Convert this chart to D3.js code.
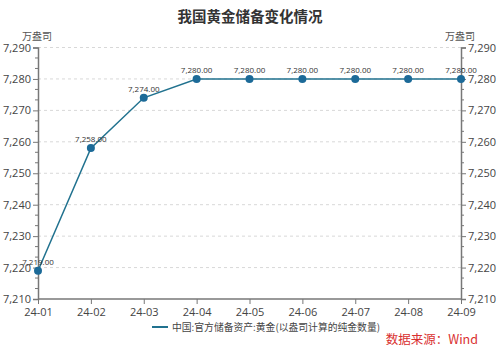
<!DOCTYPE html>
<html><head><meta charset="utf-8">
<script src="https://cdn.jsdelivr.net/npm/d3@7"></script>
<style>body{margin:0;background:#fff}svg{display:block}</style>
</head><body><svg id="c" width="499" height="354"></svg>
<script>
const categories = ["24-01","24-02","24-03","24-04","24-05","24-06","24-07","24-08","24-09"];
const values = [7219,7258,7274,7280,7280,7280,7280,7280,7280];
const yTicks = [7210,7220,7230,7240,7250,7260,7270,7280,7290];
const title = "我国黄金储备变化情况";
const unit = "万盎司";
const seriesName = "中国:官方储备资产:黄金(以盎司计算的纯金数量)";
const source = "数据来源：Wind";

const svg = d3.select("#c");
const L = 38, R = 461, T = 47.5, B = 299;
const x = d3.scalePoint().domain(categories).range([L, R]);
const y = d3.scaleLinear().domain([7210, 7290]).range([B, T]);
const font = "'Open Sans','Noto Sans CJK SC',sans-serif";
const cjk = "'Noto Sans CJK SC',sans-serif";
const lineColor = "#21728f", dotColor = "#1c6a98";

svg.append("text").attr("x", 250).attr("y", 22).attr("text-anchor","middle")
  .attr("font-family", cjk).attr("font-weight","bold").attr("font-size",14.5).attr("fill","#333").text(title);

// grid
svg.append("g").selectAll("line").data(yTicks.slice(1)).join("line")
  .attr("x1", L).attr("x2", R).attr("y1", d=>y(d)).attr("y2", d=>y(d))
  .attr("stroke","#d8d8d8").attr("stroke-dasharray","3,3");

const minor = d3.range(0, 24).map(i => 7210 + i*10/3).filter(v => Math.abs((v-7210)%10) > 0.5 && Math.abs((v-7210)%10) < 9.5);

function styleAxis(g){
  g.selectAll(".domain").attr("stroke","#777").attr("stroke-width",1.5);
  g.selectAll(".tick line").attr("stroke","#777");
  g.selectAll(".tick text").attr("fill","#444").attr("font-family",font).attr("font-size",11);
}
const yl = svg.append("g").attr("transform",`translate(${L},0)`)
  .call(d3.axisLeft(y).tickValues(yTicks).tickFormat(d3.format(",")).tickSize(5).tickPadding(2));
styleAxis(yl);
yl.append("g").selectAll("line").data(minor).join("line").attr("x1",-3).attr("x2",0)
  .attr("y1",d=>y(d)).attr("y2",d=>y(d)).attr("stroke","#777");
const yr = svg.append("g").attr("transform",`translate(${R},0)`)
  .call(d3.axisRight(y).tickValues(yTicks).tickFormat(d3.format(",")).tickSize(5).tickPadding(2));
styleAxis(yr);
yr.append("g").selectAll("line").data(minor).join("line").attr("x1",0).attr("x2",3)
  .attr("y1",d=>y(d)).attr("y2",d=>y(d)).attr("stroke","#777");
const xb = svg.append("g").attr("transform",`translate(0,${B})`)
  .call(d3.axisBottom(x).tickSize(5).tickPadding(4));
styleAxis(xb);
xb.selectAll(".domain").attr("d", `M${L},0H${R}`);

svg.append("text").attr("x",37).attr("y",40).attr("text-anchor","middle").attr("font-family",cjk)
  .attr("font-size",10).attr("fill","#555").text(unit);
svg.append("text").attr("x",460).attr("y",40).attr("text-anchor","middle").attr("font-family",cjk)
  .attr("font-size",10).attr("fill","#555").text(unit);

const data = categories.map((c,i)=>({c, v: values[i]}));
svg.append("path").datum(data).attr("fill","none").attr("stroke",lineColor).attr("stroke-width",1.5)
  .attr("d", d3.line().x(d=>x(d.c)).y(d=>y(d.v)));
svg.append("g").selectAll("circle").data(data).join("circle")
  .attr("cx",d=>x(d.c)).attr("cy",d=>y(d.v)).attr("r",4).attr("fill",dotColor);
svg.append("g").selectAll("text").data(data).join("text")
  .attr("x",d=>x(d.c)).attr("y",d=>y(d.v)-6).attr("text-anchor","middle")
  .attr("font-family",font).attr("font-size",8).attr("fill","#333")
  .text(d=>d3.format(",.2f")(d.v));

svg.append("line").attr("x1",152).attr("x2",168).attr("y1",327).attr("y2",327).attr("stroke",lineColor).attr("stroke-width",2);
svg.append("text").attr("x",172).attr("y",330.5).attr("font-family",cjk).attr("font-size",9.8).attr("fill","#444").text(seriesName);
svg.append("text").attr("x",478).attr("y",344).attr("text-anchor","end").attr("font-family",cjk).attr("font-size",12.5).attr("fill","#d9302f").text(source);
</script></body></html>
